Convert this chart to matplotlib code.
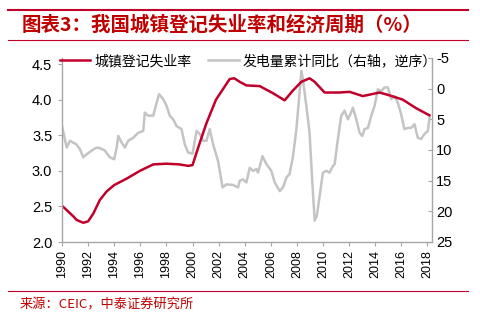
import matplotlib
matplotlib.use("Agg")
import matplotlib.pyplot as plt
from matplotlib.lines import Line2D

plt.rcParams['font.family'] = ['Liberation Sans', 'Noto Sans CJK SC', 'DejaVu Sans']

# 城镇登记失业率 (%)
ur_x = [1990.0, 1990.87, 1991.12, 1991.63, 1992.0, 1992.4, 1992.9, 1993.42, 1994.0, 1994.95,
        1995.97, 1996.99, 1998.0, 1999.0, 1999.66, 2000.0, 2000.55, 2001.07, 2001.8, 2002.85,
        2003.2, 2003.62, 2004.13, 2005.15, 2006.17, 2007.06, 2007.7, 2008.34, 2008.97, 2009.36,
        2010.12, 2011.27, 2012.03, 2013.05, 2014.33, 2015.1, 2016.11, 2017.13, 2018.15]
ur_y = [2.51, 2.36, 2.31, 2.27, 2.29, 2.40, 2.59, 2.71, 2.80, 2.89,
        3.00, 3.09, 3.10, 3.09, 3.07, 3.08, 3.39, 3.67, 4.00, 4.29,
        4.30, 4.25, 4.20, 4.19, 4.09, 3.99, 4.13, 4.25, 4.30, 4.25,
        4.10, 4.10, 4.11, 4.05, 4.10, 4.06, 4.00, 3.88, 3.78]

# 发电量累计同比 (%), right axis, reversed
pg_x = [1990.0, 1990.36, 1990.61, 1991.12, 1991.38, 1991.63, 1991.89, 1992.27, 1992.65, 1992.91,
        1993.29, 1993.67, 1994.0, 1994.19, 1994.31, 1994.57, 1994.82, 1995.07, 1995.46, 1995.84,
        1996.22, 1996.35, 1996.6, 1996.99, 1997.25, 1997.44, 1997.75, 1998.01, 1998.26, 1998.52,
        1998.78, 1999.16, 1999.41, 1999.66, 2000.0, 2000.31, 2000.56, 2000.81, 2001.07, 2001.32,
        2001.58, 2001.96, 2002.3, 2002.6, 2003.11, 2003.49, 2003.62, 2003.87, 2004.13, 2004.38,
        2004.64, 2004.9, 2005.02, 2005.36, 2005.66, 2006.04, 2006.3, 2006.68, 2006.93, 2007.19,
        2007.44, 2007.7, 2007.96, 2008.16, 2008.34, 2008.46, 2008.72, 2008.97, 2009.18, 2009.36,
        2009.53, 2009.74, 2009.99, 2010.25, 2010.5, 2010.76, 2010.89, 2011.14, 2011.4, 2011.65,
        2011.91, 2012.09, 2012.29, 2012.55, 2012.8, 2013.01, 2013.18, 2013.44, 2013.7, 2013.95,
        2014.2, 2014.46, 2014.71, 2014.97, 2015.23, 2015.48, 2015.73, 2015.99, 2016.24, 2016.5,
        2016.76, 2017.01, 2017.26, 2017.52, 2017.77, 2018.03, 2018.16]
pg_y = [6.1, 9.6, 8.5, 9.1, 9.9, 11.2, 10.7, 10.1, 9.6, 9.7,
        10.1, 11.2, 11.5, 9.6, 7.7, 8.8, 9.6, 8.5, 8.0, 7.2,
        6.9, 3.9, 4.4, 4.4, 2.3, 0.9, 1.7, 2.8, 4.4, 5.0,
        6.1, 6.6, 9.1, 10.4, 10.6, 6.9, 7.4, 8.5, 8.5, 6.6,
        9.1, 11.8, 16.1, 15.6, 15.7, 16.1, 15.0, 14.8, 15.3, 12.9,
        13.4, 13.1, 13.7, 11.0, 12.3, 13.4, 15.3, 16.7, 16.1, 14.5,
        13.9, 11.0, 6.6, 1.7, -2.9, -1.5, 2.8, 7.2, 15.3, 21.5,
        20.7, 17.5, 13.7, 13.4, 13.7, 12.6, 12.3, 8.2, 4.4, 3.6,
        5.0, 4.2, 3.1, 5.0, 7.2, 7.7, 6.6, 6.4, 4.4, 2.8,
        0.1, 0.4, -0.2, -0.2, 1.7, 1.2, 2.3, 4.2, 6.6, 6.4,
        6.4, 5.8, 8.0, 8.2, 7.4, 6.9, 4.7]

years = list(range(1990, 2019, 2))
left_ticks = [2.0, 2.5, 3.0, 3.5, 4.0, 4.5]
right_ticks = [-5, 0, 5, 10, 15, 20, 25]

red = '#c0002a'
gray = '#c4c4c4'
spine_c = '#a6a6a6'
cjk = ['Noto Sans CJK SC', 'DejaVu Sans']

fig = plt.figure(figsize=(4.8, 3.25), dpi=100)
ax = fig.add_axes([62 / 480, 1 - 242 / 325, 370 / 480, 184 / 325])
ax2 = ax.twinx()
ax.set_zorder(ax2.get_zorder() + 1)
ax.patch.set_visible(False)

ax2.plot(pg_x, pg_y, color=gray, lw=1.8, solid_joinstyle='round')
ax.plot(ur_x, ur_y, color=red, lw=1.8, solid_joinstyle='round')

ax.set_xlim(1990, 2018.35)
ax.set_ylim(2.0, 4.585)
ax2.set_ylim(25, -5)

ax.set_xticks(years)
ax.set_xticklabels([str(y) for y in years], rotation=90, fontsize=9)
ax.set_yticks(left_ticks)
ax.set_yticklabels(['%.1f' % v for v in left_ticks], fontsize=10.5)
ax2.set_yticks(right_ticks)
ax2.set_yticklabels([str(v) for v in right_ticks], fontsize=10.5)

for a in (ax, ax2):
    for s in a.spines.values():
        s.set_color(spine_c)
        s.set_linewidth(1.0)
    a.spines['top'].set_visible(False)
ax.spines['right'].set_visible(False)
ax2.spines['left'].set_visible(False)
ax2.spines['bottom'].set_visible(False)
ax.tick_params(axis='x', direction='out', length=3, color=spine_c, pad=3)
ax.tick_params(axis='y', direction='out', length=3, color=spine_c, pad=4)
ax2.tick_params(axis='y', direction='in', length=3, color=spine_c, pad=3)

handles = [Line2D([], [], color=red, lw=1.8), Line2D([], [], color=gray, lw=1.8)]
fig.legend(handles, ['城镇登记失业率', '发电量累计同比（右轴，逆序）'],
           loc='center left', bbox_to_anchor=(54 / 480, 1 - 61 / 325), ncol=2,
           frameon=False, prop={'family': cjk, 'size': 10},
           handlelength=2.2, handletextpad=0.3, columnspacing=1.2, borderaxespad=0)

fig.add_artist(Line2D([8 / 480, 468 / 480], [1 - 10 / 325] * 2, color=red, lw=1.5))
fig.add_artist(Line2D([8 / 480, 468 / 480], [1 - 40 / 325] * 2, color=red, lw=0.8))
fig.add_artist(Line2D([8 / 480, 468 / 480], [1 - 291 / 325] * 2, color=red, lw=0.8))

fig.text(22 / 480, 1 - 25 / 325, '图表3：我国城镇登记失业率和经济周期（%）', color='#c00000',
         fontsize=14, fontweight='bold', family=cjk, va='center', ha='left')
fig.text(20 / 480, 1 - 305 / 325, '来源：CEIC，中泰证券研究所', color='#c00000',
         fontsize=9.5, family=cjk, va='center', ha='left')

fig.savefig('out.png', dpi=100)
